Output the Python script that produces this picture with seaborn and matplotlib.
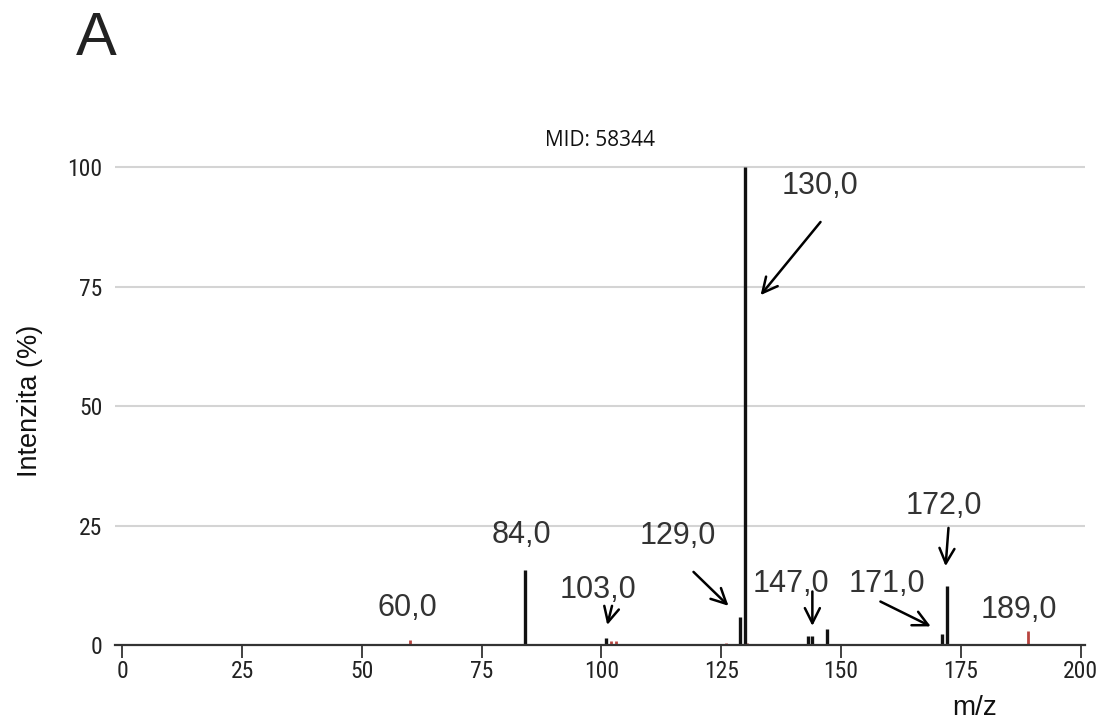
import matplotlib
matplotlib.use("Agg")
import matplotlib.pyplot as plt
import seaborn as sns
import numpy as np

# ---- data ----
black_mz = [84, 101, 129, 130, 143, 144, 147, 171, 172]
black_int = [15.7, 1.5, 5.8, 100.0, 1.9, 1.9, 3.3, 2.3, 12.3]
red_mz = [60, 102, 103, 126, 130.4, 189]
red_int = [1.0, 0.8, 0.8, 0.4, 0.5, 2.9]

x_ticks = [0, 25, 50, 75, 100, 125, 150, 175, 200]
y_ticks = [0, 25, 50, 75, 100]

# annotations: label, text position, arrow tail, arrow tip (None = no arrow)
ann_labels = ["130,0", "84,0", "60,0", "103,0", "129,0", "147,0", "171,0", "172,0", "189,0"]
ann_text = [(145.5, 96.0), (83.3, 23.0), (59.5, 7.7), (99.2, 11.5), (115.9, 22.8),
            (139.5, 12.8), (159.5, 12.8), (171.4, 29.1), (187.0, 7.3)]
ann_tail = [(145.7, 88.5), None, None, (102.2, 8.2), (119.2, 15.3),
            (144.0, 11.2), (158.2, 9.1), (172.4, 24.5), None]
ann_tip = [(133.2, 73.2), None, None, (101.2, 4.2), (126.5, 8.2),
           (144.0, 4.0), (168.7, 3.9), (171.8, 16.5), None]

sns.set_theme(style="white")
plt.rcParams['font.family'] = ['Liberation Sans', 'DejaVu Sans']

fig = plt.figure(figsize=(11.09, 7.22), dpi=100)
ax = fig.add_axes([0.1037, 0.1066, 0.978 - 0.1037, 0.7753 - 0.1066])

ax.set_xlim(-1.5, 200.8)
ax.set_ylim(0, 101)

for yv in y_ticks[1:]:
    ax.axhline(yv, color="#d4d4d4", lw=1.5, zorder=0)

ax.vlines(red_mz, 0, red_int, colors="#b8443f", lw=2.0, zorder=2)
ax.vlines(black_mz, 0, black_int, colors="#111111", lw=2.4, zorder=3)

for s in ["top", "right", "left"]:
    ax.spines[s].set_visible(False)
ax.spines["bottom"].set_color("#333333")
ax.spines["bottom"].set_linewidth(1.6)
ax.spines["bottom"].set_zorder(4)

tick_font = dict(family=['Liberation Sans Narrow', 'Roboto Condensed', 'Liberation Sans', 'DejaVu Sans'])
ax.set_xticks(x_ticks)
ax.set_xticklabels([str(v) for v in x_ticks], fontsize=17, color="#222222", **tick_font)
ax.set_yticks(y_ticks)
ax.set_yticklabels([str(v) for v in y_ticks], fontsize=17, color="#222222", **tick_font)
ax.tick_params(axis="x", bottom=True, length=9, width=1.3, color="#333333", pad=2)
ax.tick_params(axis="y", left=False, length=0, pad=9)

fig.text(0.027, 0.4446, "Intenzita (%)", fontsize=19.5, color="#111111", rotation=90,
         ha="center", va="center")
ax.text(177.9, -13.2, "m/z", fontsize=20, color="#111111", ha="center", va="center",
        clip_on=False)

ax.set_title("MID: 58344", fontsize=15, color="#111111", pad=12, family=['Open Sans', 'DejaVu Sans'])

fig.text(0.068, 0.945, "A", fontsize=44, color="#222222", ha="left", va="center")

for lab, tp, tail, tip in zip(ann_labels, ann_text, ann_tail, ann_tip):
    ax.text(tp[0], tp[1], lab, fontsize=22, color="#333333", ha="center", va="center", zorder=5)
    if tail is not None:
        ax.annotate("", xy=tip, xytext=tail,
                    arrowprops=dict(arrowstyle="->,head_length=0.9,head_width=0.45",
                                    color="black", lw=1.8, shrinkA=0, shrinkB=0))

fig.savefig("out.png", dpi=100)
